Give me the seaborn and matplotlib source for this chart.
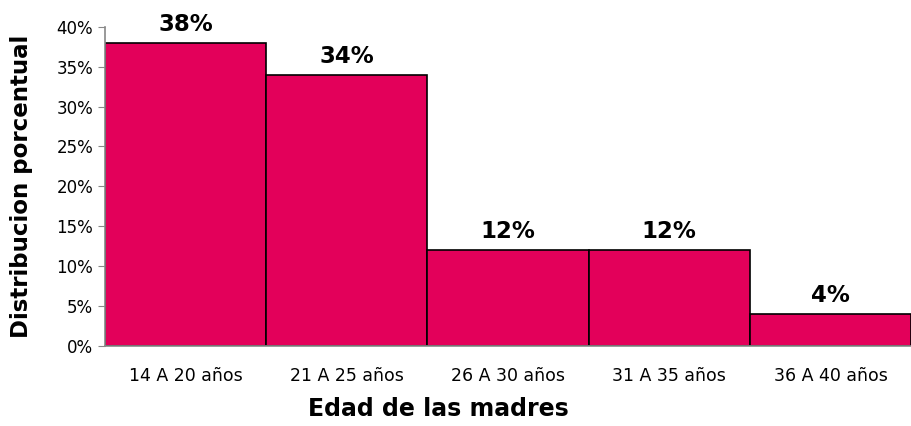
import numpy as np
import pandas as pd
import matplotlib
matplotlib.use("Agg")
import matplotlib.pyplot as plt
import seaborn as sns
from matplotlib.ticker import PercentFormatter

categorias = ['14 A 20 años', '21 A 25 años', '26 A 30 años', '31 A 35 años', '36 A 40 años']
porcentajes = [38, 34, 12, 12, 4]

sns.set_style('white')
plt.rcParams['font.family'] = ['DejaVu Sans']
plt.rcParams['text.color'] = 'black'
plt.rcParams['axes.labelcolor'] = 'black'
plt.rcParams['xtick.color'] = 'black'
plt.rcParams['ytick.color'] = 'black'

df = pd.DataFrame({'edad': categorias, 'pct': porcentajes})

fig = plt.figure(figsize=(9.12, 4.26), dpi=100)
ax = fig.add_axes([0.115, 0.188, 0.884, 0.749])
sns.barplot(data=df, x='edad', y='pct', color='#E3005A', saturation=1,
            width=1.0, edgecolor='black', linewidth=1.2, ax=ax)

for i, v in enumerate(porcentajes):
    ax.text(i, v + 0.9, f'{v}%', ha='center', va='bottom',
            fontsize=16.5, fontweight='bold')

ax.set_ylim(0, 40)
ax.set_xlim(-0.5, 4.5)
ax.set_yticks(np.arange(0, 41, 5))
ax.yaxis.set_major_formatter(PercentFormatter(decimals=0))
ax.tick_params(axis='y', left=True, length=5, color='#888888', labelsize=12)
ax.tick_params(axis='x', bottom=False, labelsize=12.5, pad=12)
for s in ['top', 'right']:
    ax.spines[s].set_visible(False)
for s in ['left', 'bottom']:
    ax.spines[s].set_color('#888888')
    ax.spines[s].set_linewidth(1.2)

ax.set_xlabel('Edad de las madres', fontsize=17, fontweight='bold')
ax.xaxis.set_label_coords(0.414, -0.16)
ax.set_ylabel('Distribucion porcentual', fontsize=16.5, fontweight='bold')
ax.yaxis.set_label_coords(-0.089, 0.5)

fig.savefig('out.png', dpi=100)
